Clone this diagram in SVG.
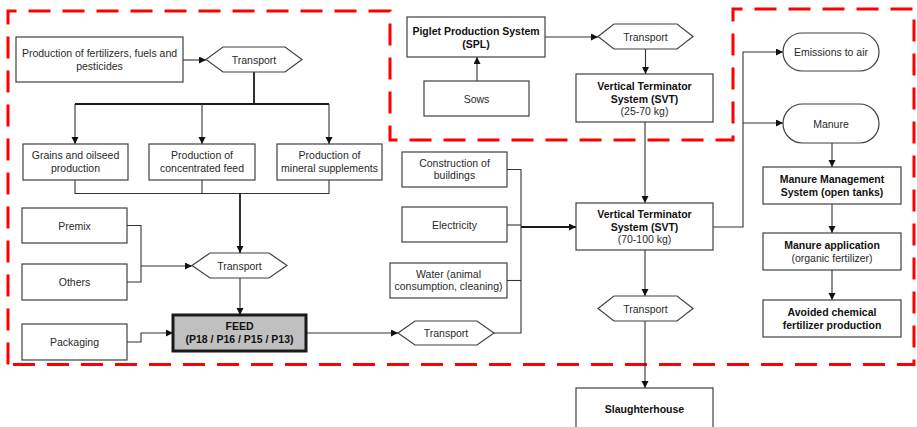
<svg xmlns="http://www.w3.org/2000/svg" width="917" height="427" viewBox="0 0 917 427">
<style>
  .box { fill: #ffffff; stroke: #404040; stroke-width: 1.2; }
  .feed { fill: #c0c0c0; stroke: #1a1a1a; stroke-width: 3; }
  .t { font-family: "Liberation Sans", Arial, sans-serif; font-size: 10.5px; fill: #2a2a2a; text-anchor: middle; dominant-baseline: central; }
  .b { font-weight: bold; fill: #111111; }
  .ln { fill: none; stroke: #333333; stroke-width: 1.1; }
  .thk { stroke-width: 1.8; stroke: #1a1a1a; }
  .red { fill: none; stroke: #ff0000; stroke-width: 3; stroke-dasharray: 22 12; }
</style>
<defs>
  <marker id="ah" markerUnits="userSpaceOnUse" markerWidth="8" markerHeight="8" refX="7" refY="3.5" orient="auto">
    <path d="M0,0 L7,3.5 L0,7 Z" fill="#111111"/>
  </marker>
</defs>

<path class="red" d="M8,364.5 V11 H390 V140 H733 V9 H914 V364.5 Z"/>

<g id="connectors">
  <path class="ln" d="M183,60 H206" marker-end="url(#ah)"/>
  <path class="ln thk" d="M254,72 V104"/>
  <path class="ln thk" d="M75,104 H329"/>
  <path class="ln" d="M75,104 V144" marker-end="url(#ah)"/>
  <path class="ln" d="M202,104 V144" marker-end="url(#ah)"/>
  <path class="ln" d="M329,104 V144" marker-end="url(#ah)"/>
  <path class="ln" d="M75,180 V193.5 H329 V180"/>
  <path class="ln" d="M202,180 V193.5"/>
  <path class="ln thk" d="M240,193.5 V253" marker-end="url(#ah)"/>
  <path class="ln" d="M127,225.5 H141 V282 H127"/>
  <path class="ln" d="M141,266 H192" marker-end="url(#ah)"/>
  <path class="ln" d="M240,278 V315" marker-end="url(#ah)"/>
  <path class="ln" d="M127,342 H141 V333 H173" marker-end="url(#ah)"/>
  <path class="ln" d="M306,333 H398" marker-end="url(#ah)"/>
  <path class="ln" d="M494,333 H521 V169.5 H507"/>
  <path class="ln" d="M507,225 H521"/>
  <path class="ln" d="M507,280.5 H521"/>
  <path class="ln thk" d="M521,227 H576" marker-end="url(#ah)"/>
  <path class="ln" d="M477,81 V57" marker-end="url(#ah)"/>
  <path class="ln" d="M545,37 H598" marker-end="url(#ah)"/>
  <path class="ln" d="M645.5,49 V74" marker-end="url(#ah)"/>
  <path class="ln" d="M645,122 V203" marker-end="url(#ah)"/>
  <path class="ln" d="M713,227 H743 V52 H783" marker-end="url(#ah)"/>
  <path class="ln" d="M743,123 H783" marker-end="url(#ah)"/>
  <path class="ln" d="M832,143 V167" marker-end="url(#ah)"/>
  <path class="ln" d="M832,204 V233" marker-end="url(#ah)"/>
  <path class="ln" d="M832,270 V300" marker-end="url(#ah)"/>
  <path class="ln" d="M645,250 V296" marker-end="url(#ah)"/>
  <path class="ln" d="M645,321 V388" marker-end="url(#ah)"/>
</g>

<g id="fert">
  <rect class="box" x="16" y="37" width="167" height="45"/>
  <text class="t" x="99.5" y="53">Production of fertilizers, fuels and</text>
  <text class="t" x="99.5" y="66">pesticides</text>
</g>
<g id="transport1">
  <polygon class="box" points="206,59.5 223,47 285,47 302,59.5 285,72 223,72"/>
  <text class="t" x="254" y="59.5">Transport</text>
</g>
<g id="grains">
  <rect class="box" x="23" y="144" width="105" height="36"/>
  <text class="t" x="75.5" y="155">Grains and oilseed</text>
  <text class="t" x="75.5" y="168">production</text>
</g>
<g id="concentrated">
  <rect class="box" x="149" y="144" width="106" height="36"/>
  <text class="t" x="202" y="155">Production of</text>
  <text class="t" x="202" y="168">concentrated feed</text>
</g>
<g id="mineral">
  <rect class="box" x="277" y="144" width="105" height="36"/>
  <text class="t" x="329.5" y="155">Production of</text>
  <text class="t" x="329.5" y="168">mineral supplements</text>
</g>
<g id="premix">
  <rect class="box" x="22" y="208" width="105" height="35"/>
  <text class="t" x="74.5" y="225.5">Premix</text>
</g>
<g id="others">
  <rect class="box" x="22" y="264" width="105" height="36"/>
  <text class="t" x="74.5" y="282">Others</text>
</g>
<g id="packaging">
  <rect class="box" x="22" y="324" width="105" height="36"/>
  <text class="t" x="74.5" y="342">Packaging</text>
</g>
<g id="transport2">
  <polygon class="box" points="192,265.5 210,253 269,253 287,265.5 269,278 210,278"/>
  <text class="t" x="239.5" y="265.5">Transport</text>
</g>
<g id="feed">
  <rect class="feed" x="173" y="315" width="133" height="36"/>
  <text class="t b" x="239.5" y="326">FEED</text>
  <text class="t b" x="239.5" y="338.5">(P18 / P16 / P15 / P13)</text>
</g>
<g id="transport3">
  <polygon class="box" points="398,333 415,321 477,321 494,333 477,345 415,345"/>
  <text class="t" x="446" y="333">Transport</text>
</g>
<g id="construction">
  <rect class="box" x="402" y="152" width="105" height="35"/>
  <text class="t" x="454.5" y="162.5">Construction of</text>
  <text class="t" x="454.5" y="175">buildings</text>
</g>
<g id="electricity">
  <rect class="box" x="402" y="207" width="105" height="35"/>
  <text class="t" x="454.5" y="224.5">Electricity</text>
</g>
<g id="water">
  <rect class="box" x="390" y="263" width="117" height="35"/>
  <text class="t" x="448.5" y="273.5">Water (animal</text>
  <text class="t" x="448.5" y="286">consumption, cleaning)</text>
</g>
<g id="spl">
  <rect class="box" x="407" y="17" width="138" height="40"/>
  <text class="t b" x="476" y="31">Piglet Production System</text>
  <text class="t b" x="476" y="44">(SPL)</text>
</g>
<g id="sows">
  <rect class="box" x="424" y="81" width="105" height="35"/>
  <text class="t" x="476.5" y="98.5">Sows</text>
</g>
<g id="transport0">
  <polygon class="box" points="598,36.5 614,24 677,24 693,36.5 677,49 614,49"/>
  <text class="t" x="645.5" y="36.5">Transport</text>
</g>
<g id="svt1">
  <rect class="box" x="576" y="74" width="137" height="48"/>
  <text class="t b" x="644.5" y="86">Vertical Terminator</text>
  <text class="t b" x="644.5" y="98.5">System (SVT)</text>
  <text class="t" x="644.5" y="111">(25-70 kg)</text>
</g>
<g id="svt2">
  <rect class="box" x="576" y="203" width="137" height="47"/>
  <text class="t b" x="644.5" y="213.5">Vertical Terminator</text>
  <text class="t b" x="644.5" y="226.5">System (SVT)</text>
  <text class="t" x="644.5" y="239">(70-100 kg)</text>
</g>
<g id="transport4">
  <polygon class="box" points="598,308.5 614,296 677,296 693,308.5 677,321 614,321"/>
  <text class="t" x="645.5" y="308.5">Transport</text>
</g>
<g id="slaughterhouse">
  <rect class="box" x="576" y="388" width="137" height="50"/>
  <text class="t b" x="644.5" y="409">Slaughterhouse</text>
</g>
<g id="emissions">
  <rect class="box" x="783" y="33" width="96" height="38" rx="19" ry="19"/>
  <text class="t" x="831" y="52">Emissions to air</text>
</g>
<g id="manure">
  <rect class="box" x="783" y="104" width="96" height="39" rx="19.5" ry="19.5"/>
  <text class="t" x="831" y="123.5">Manure</text>
</g>
<g id="mms">
  <rect class="box" x="763" y="167" width="138" height="37"/>
  <text class="t b" x="832" y="178.5">Manure Management</text>
  <text class="t b" x="832" y="191.5">System (open tanks)</text>
</g>
<g id="application">
  <rect class="box" x="763" y="233" width="138" height="37"/>
  <text class="t b" x="832" y="244.5">Manure application</text>
  <text class="t" x="832" y="257.5">(organic fertilizer)</text>
</g>
<g id="avoided">
  <rect class="box" x="763" y="300" width="138" height="37"/>
  <text class="t b" x="832" y="312">Avoided chemical</text>
  <text class="t b" x="832" y="324.5">fertilizer production</text>
</g>
</svg>
